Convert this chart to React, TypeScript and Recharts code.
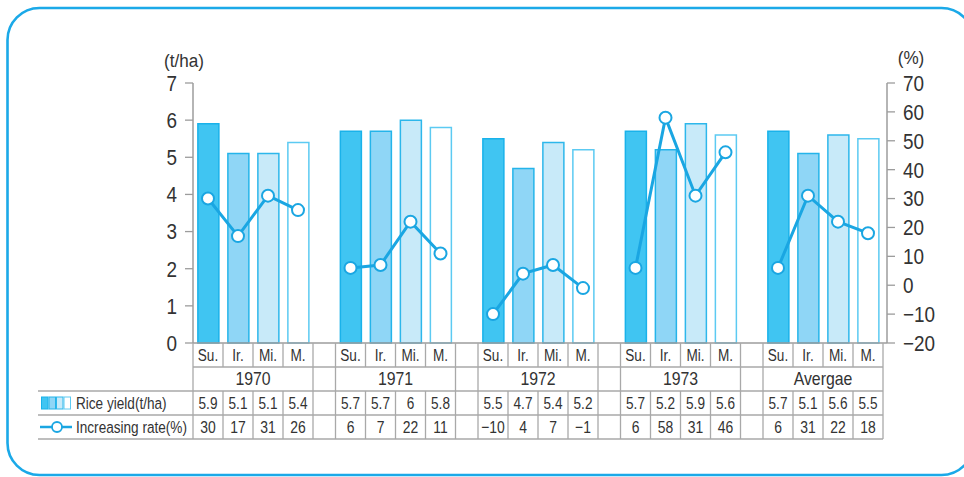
import React from 'react';
import { ComposedChart, Bar, Line, XAxis, YAxis, Cell } from 'recharts';

// Rice yield by cropping season, 1970–1973 and average
const groups = ['1970', '1971', '1972', '1973', 'Avergae'];
const seasons = ['Su.', 'Ir.', 'Mi.', 'M.'];
const riceYield = [
  [5.9, 5.1, 5.1, 5.4],
  [5.7, 5.7, 6, 5.8],
  [5.5, 4.7, 5.4, 5.2],
  [5.7, 5.2, 5.9, 5.6],
  [5.7, 5.1, 5.6, 5.5],
];
const increasingRate = [
  [30, 17, 31, 26],
  [6, 7, 22, 11],
  [-10, 4, 7, -1],
  [6, 58, 31, 46],
  [6, 31, 22, 18],
];
const yieldTicks = [0, 1, 2, 3, 4, 5, 6, 7];
const rateTicks = [-20, -10, 0, 10, 20, 30, 40, 50, 60, 70];

// layout
const W = 964;
const H = 477;
const PLOT_L = 193;
const PLOT_R = 887;
const DATA_R = 883;
const PLOT_T = 83;
const PLOT_B = 343;
const Y_AXIS_W = 60;
const X_AXIS_H = 30;
const GAP = 0.75;
const STRIDE = seasons.length + GAP;
const X_MAX = groups.length * STRIDE - GAP;
const UNIT = (DATA_R - PLOT_L) / X_MAX;
const px = (u: number) => PLOT_L + u * UNIT;
const ROW_Y = [343, 367, 391, 415, 439];
const LABEL_L = 38;

const FONT = "'Liberation Sans', Arial, sans-serif";
const TEXT = '#333333';
const GRID = '#a9a9a9';
const AXIS = '#9c9c9c';
const LINE = '#1aa6e2';
const BORDER = '#1ba9e8';
const BAR_FILL = ['#40c5f2', '#8fd6f6', '#c8eaf9', '#ffffff'];
const BAR_STROKE = ['#19b2ea', '#24b4ea', '#2db7eb', '#5ccaf2'];

const fmt = (v: number) => (v < 0 ? `\u2212${-v}` : `${v}`);

// condensed-looking text: horizontally squeezed glyphs
function NText({
  x,
  y,
  anchor = 'middle',
  size = 17,
  sx = 0.8,
  children,
}: {
  x: number;
  y: number;
  anchor?: 'start' | 'middle' | 'end';
  size?: number;
  sx?: number;
  children: React.ReactNode;
}) {
  return (
    <text
      transform={`translate(${x} ${y}) scale(${sx} 1)`}
      textAnchor={anchor}
      dy="0.36em"
      fontFamily={FONT}
      fontSize={size}
      fill={TEXT}
    >
      {children}
    </text>
  );
}

const AxisTick = (props: any) => {
  const { x, y, textAnchor, payload, tickFormatter } = props;
  const label = tickFormatter ? tickFormatter(payload.value) : String(payload.value);
  return (
    <NText x={x} y={y} anchor={textAnchor} size={22} sx={0.86}>
      {label}
    </NText>
  );
};

type Row = { x: number; season: number; yield: number | null; rate: number | null };
const rows: Row[] = [];
groups.forEach((_, gi) => {
  seasons.forEach((__, si) => {
    rows.push({
      x: gi * STRIDE + si + 0.5,
      season: si,
      yield: riceYield[gi][si],
      rate: increasingRate[gi][si],
    });
  });
  if (gi < groups.length - 1) {
    rows.push({ x: gi * STRIDE + seasons.length + GAP / 2, season: -1, yield: null, rate: null });
  }
});
const gapTicks = rows.filter((r) => r.season < 0).map((r) => r.x);

function DataTable() {
  const lines: React.ReactNode[] = [];
  const texts: React.ReactNode[] = [];
  let k = 0;
  const vline = (x: number, y1: number, y2: number) =>
    lines.push(<line key={`v${k++}`} x1={x} x2={x} y1={y1} y2={y2} stroke={GRID} strokeWidth={1.3} />);
  const hline = (x1: number, x2: number, y: number) =>
    lines.push(<line key={`h${k++}`} x1={x1} x2={x2} y1={y} y2={y} stroke={GRID} strokeWidth={1.3} />);

  hline(PLOT_L, DATA_R, ROW_Y[1]);
  hline(LABEL_L, DATA_R, ROW_Y[2]);
  hline(LABEL_L, DATA_R, ROW_Y[3]);
  hline(LABEL_L, DATA_R, ROW_Y[4]);

  const mid = (row: number) => (ROW_Y[row] + ROW_Y[row + 1]) / 2;

  groups.forEach((g, gi) => {
    const start = gi * STRIDE;
    for (let c = 0; c <= seasons.length; c++) {
      const x = px(start + c);
      vline(x, ROW_Y[0], ROW_Y[1]);
      vline(x, ROW_Y[2], ROW_Y[4]);
      if (c === 0 || c === seasons.length) vline(x, ROW_Y[1], ROW_Y[2]);
    }
    seasons.forEach((s, si) => {
      const cx = px(start + si + 0.5);
      texts.push(<NText key={`s${k++}`} x={cx} y={mid(0)} size={17} sx={0.8}>{s}</NText>);
      texts.push(<NText key={`y${k++}`} x={cx} y={mid(2)} size={17} sx={0.8}>{fmt(riceYield[gi][si])}</NText>);
      texts.push(<NText key={`r${k++}`} x={cx} y={mid(3)} size={17} sx={0.82}>{fmt(increasingRate[gi][si])}</NText>);
    });
    texts.push(
      <NText key={`g${gi}`} x={px(start + seasons.length / 2)} y={mid(1)} size={18} sx={0.88}>
        {g}
      </NText>
    );
  });

  const iconY = mid(2);
  const lineY = mid(3);
  return (
    <g>
      {lines}
      {texts}
      {BAR_FILL.map((f, i) => (
        <rect key={`ic${i}`} x={41.5 + i * 7.5} y={iconY - 6} width={6.5} height={12} fill={f} stroke={BAR_STROKE[i]} strokeWidth={1} />
      ))}
      <NText x={76} y={iconY} anchor="start" size={17} sx={0.8}>Rice yield(t/ha)</NText>
      <line x1={40} x2={72} y1={lineY} y2={lineY} stroke={LINE} strokeWidth={2.5} />
      <circle cx={57} cy={lineY} r={5} fill="#fff" stroke={LINE} strokeWidth={1.8} />
      <NText x={76} y={lineY} anchor="start" size={17} sx={0.8}>Increasing rate(%)</NText>
    </g>
  );
}

export default function App() {
  return (
    <div style={{ position: 'absolute', left: 0, top: 0, width: W, height: H, background: '#fff', overflow: 'hidden' }}>
      <ComposedChart
        width={W}
        height={H}
        data={rows}
        margin={{ top: PLOT_T, right: W - PLOT_R - Y_AXIS_W, bottom: H - PLOT_B - X_AXIS_H, left: PLOT_L - Y_AXIS_W }}
      >
        <XAxis
          dataKey="x"
          type="number"
          domain={[0, X_MAX]}
          padding={{ left: 0, right: PLOT_R - DATA_R }}
          ticks={gapTicks}
          interval={0}
          tick={false}
          tickSize={-5}
          height={X_AXIS_H}
          axisLine={{ stroke: AXIS, strokeWidth: 1.5 }}
          tickLine={{ stroke: AXIS, strokeWidth: 1.3 }}
        />
        <YAxis
          yAxisId="left"
          orientation="left"
          width={Y_AXIS_W}
          domain={[0, 7]}
          ticks={yieldTicks}
          interval={0}
          tickSize={8}
          tickMargin={8}
          tick={<AxisTick />}
          axisLine={{ stroke: AXIS, strokeWidth: 1.5 }}
          tickLine={{ stroke: AXIS, strokeWidth: 1.3 }}
        />
        <YAxis
          yAxisId="right"
          orientation="right"
          width={Y_AXIS_W}
          domain={[-20, 70]}
          ticks={rateTicks}
          interval={0}
          tickFormatter={fmt}
          tickSize={8}
          tickMargin={8}
          tick={<AxisTick />}
          axisLine={{ stroke: AXIS, strokeWidth: 1.5 }}
          tickLine={{ stroke: AXIS, strokeWidth: 1.3 }}
        />
        <Bar dataKey="yield" yAxisId="left" barSize={21} isAnimationActive={false}>
          {rows.map((r, i) => (
            <Cell
              key={i}
              fill={r.season < 0 ? 'none' : BAR_FILL[r.season]}
              stroke={r.season < 0 ? 'none' : BAR_STROKE[r.season]}
              strokeWidth={1.5}
            />
          ))}
        </Bar>
        <Line
          dataKey="rate"
          yAxisId="right"
          stroke={LINE}
          strokeWidth={3}
          connectNulls={false}
          dot={{ r: 6, fill: '#fff', stroke: LINE, strokeWidth: 2 }}
          activeDot={false}
          isAnimationActive={false}
        />
      </ComposedChart>
      <svg width={W} height={H} style={{ position: 'absolute', left: 0, top: 0, pointerEvents: 'none' }}>
        <rect x={7.5} y={8} width={966} height={467} rx={32} fill="none" stroke={BORDER} strokeWidth={2.6} />
        <NText x={184} y={60} size={19} sx={0.9}>(t/ha)</NText>
        <NText x={911} y={57} size={19} sx={0.9}>(%)</NText>
        <DataTable />
      </svg>
    </div>
  );
}
